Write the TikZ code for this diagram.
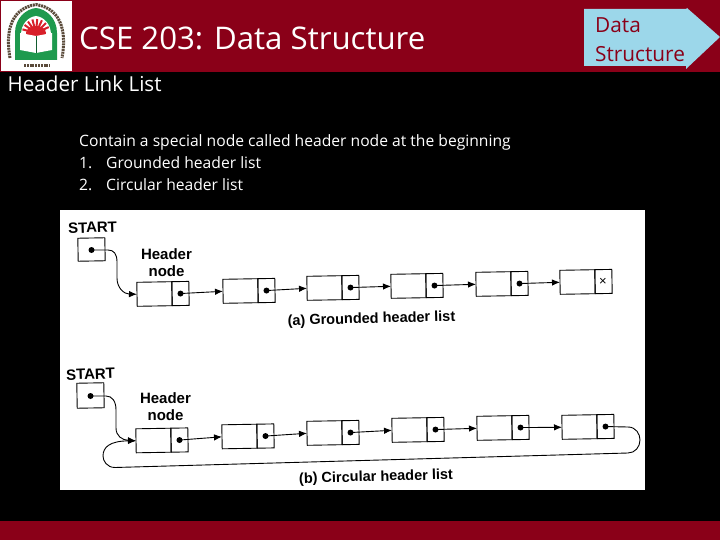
\documentclass[tikz,border=0pt]{standalone}
\usepackage{fontspec}
\setmainfont{Open Sans}
\newfontfamily\figfont{Liberation Sans}
\usetikzlibrary{arrows.meta,calc}
\definecolor{band}{HTML}{8A0018}
\definecolor{sky}{HTML}{9CD7EA}
\definecolor{logogreen}{HTML}{1E9A4E}
\definecolor{logored}{HTML}{D8202A}
\definecolor{logobrown}{HTML}{5A4A3A}
\tikzset{
  slidetext/.style={text=white,anchor=base west,inner sep=0pt},
  cellbase/.style={draw=black,line width=0.9pt,minimum height=24pt,inner sep=0pt,outer sep=0pt},
  datacell/.style={cellbase,minimum width=35pt},
  ptrcell/.style={cellbase,minimum width=17pt},
  startbox/.style={cellbase,minimum width=27pt},
  dotnode/.style={circle,fill=black,minimum size=6pt,inner sep=0pt},
  link/.style={line width=0.9pt,-{Latex[length=8pt,width=6.5pt]}},
  figlabel/.style={font=\figfont\bfseries,text=black,inner sep=0pt,align=center},
}
% \listcell{name}{left x}{center y}{rotation}
\newcommand{\listcell}[4]{%
  \node[datacell,rotate=#4] (#1d) at (#2+17.5,#3) {};
  \node[ptrcell,rotate=#4,anchor=west] (#1p) at (#1d.east) {};
  \node[dotnode] (#1c) at (#1p.center) {};
}
\begin{document}
\begin{tikzpicture}[x=1pt,y=-1pt]
\useasboundingbox (0,0) rectangle (720,540);
\fill[black] (0,0) rectangle (720,540);
\fill[band] (0,0) rectangle (720,72);
\fill[band] (0,521) rectangle (720,540);
% logo
\fill[white] (1,1) rectangle (72,71);
\draw[logobrown,line width=3pt,dash pattern=on 2pt off 0.8pt] (10,58) .. controls (6,36) and (8,9) .. (36,4.5) .. controls (64,9) and (66,36) .. (62,58);
\draw[logobrown,line width=3pt,dash pattern=on 2pt off 0.8pt] (24,66) -- (50,66);
\fill[logogreen] (15,60) -- (15,33) .. controls (15,18) and (26,9) .. (36,8) .. controls (46,9) and (57,18) .. (57,33) -- (57,60) -- cycle;
\fill[white] (21,35) .. controls (21,24) and (28,17) .. (36,16) .. controls (44,17) and (51,24) .. (51,35) -- cycle;
\fill[logored] (36,33) ellipse (10 and 7);
\foreach \a in {195,215,...,345}{\draw[logored,line width=2pt] (36,33) -- ++({\a}:14);}
\fill[white] (20,33) -- (36,36) -- (52,33) -- (52,50) -- (36,53) -- (20,50) -- cycle;
\draw[logogreen!60!black,line width=0.4pt] (36,36) -- (36,53);
% slide texts
\node[slidetext,font=\fontsize{31.2}{36}\selectfont] (title) at (79,49.5) {CSE 203: Data Structure};
\node[slidetext,font=\fontsize{20.6}{24}\selectfont] (sub) at (7.5,92) {Header Link List};
\node[slidetext,font=\fontsize{15.65}{18}\selectfont] (l0) at (79,147) {Contain a special node called header node at the beginning};
\node[slidetext,font=\fontsize{15.65}{18}\selectfont] (n1) at (79,168.5) {1.};
\node[slidetext,font=\fontsize{15.65}{18}\selectfont] (l1) at (106,168.5) {Grounded header list};
\node[slidetext,font=\fontsize{15.65}{18}\selectfont] (n2) at (79,190.5) {2.};
\node[slidetext,font=\fontsize{15.65}{18}\selectfont] (l2) at (106,190.5) {Circular header list};
% arrow tag
\fill[sky] (584,9) -- (686,9) -- (687,8) -- (720,37) -- (686,69) -- (686,66) -- (584,66) -- cycle;
\node[anchor=base west,text=band,inner sep=0pt,font=\fontsize{20.8}{24}\selectfont] (t1) at (595,33) {Data};
\node[anchor=base west,text=band,inner sep=0pt,font=\fontsize{20.8}{24}\selectfont] (t2) at (595,62) {Structure};
% figure
\fill[white] (60,210) rectangle (645,490);
% --- grounded
\node[startbox,rotate=1,minimum height=23pt] (sa) at (91.5,249.5) {};
\node[dotnode] (sac) at (91.5,250) {};
\node[figlabel,font=\figfont\bfseries\fontsize{15}{17}\selectfont,rotate=2] (stA) at (92.5,227.5) {START};
\node[figlabel,font=\figfont\bfseries\fontsize{15}{17}\selectfont] (hA) at (166.5,262.5) {Header\\node};
\listcell{a1}{137}{294}{1}
\listcell{a2}{223}{291}{1}
\listcell{a3}{307}{288}{1}
\listcell{a4}{391}{286}{1}
\listcell{a5}{476}{284}{1}
\listcell{a6}{560}{282}{1}
\node[fill=white,inner sep=1pt,figlabel,font=\figfont\fontsize{13}{15}\selectfont] (xm) at (603,281.5) {×};
\draw[link] (sac.center) -- (108,250) .. controls (114,250) and (117,254) .. (117,262) -- (117,278) .. controls (117,288) and (124,294) .. (a1d.west);
\foreach \i/\j in {1/2,2/3,3/4,4/5,5/6}{\draw[link] (a\i c.center) -- (a\j d.west);}
\node[figlabel,font=\figfont\bfseries\fontsize{14.5}{15}\selectfont,rotate=1.5] (capA) at (371.5,319.5) {(a) Grounded header list};
% --- circular
\node[startbox,rotate=1,minimum height=25pt] (sb) at (90.5,395.5) {};
\node[dotnode] (sbc) at (90.5,396) {};
\node[figlabel,font=\figfont\bfseries\fontsize{15}{17}\selectfont,rotate=2] (stB) at (90.5,374) {START};
\node[figlabel,font=\figfont\bfseries\fontsize{15}{17}\selectfont] (hB) at (165.5,406.5) {Header\\node};
\listcell{b1}{136}{440.5}{1}
\listcell{b2}{222}{436.5}{1}
\listcell{b3}{307}{433}{1}
\listcell{b4}{392}{430}{1}
\listcell{b5}{477}{428}{1}
\listcell{b6}{562}{427}{1}
\draw[link] (sbc.center) -- (106,396) .. controls (112,396) and (116,401) .. (116,410) -- (116,428) .. controls (116,436) and (122,440) .. (b1d.west);
\foreach \i/\j in {1/2,2/3,3/4,4/5,5/6}{\draw[link] (b\i c.center) -- (b\j d.west);}
\draw[link] (b6c.center) -- (628,427) .. controls (636,427) and (640,434) .. (640,440) .. controls (640,447) and (635,453) .. (628,453) -- (115,467.5) .. controls (107,467.5) and (103,461) .. (103,456) .. controls (103,447) and (110,441) .. (b1d.west);
\node[figlabel,font=\figfont\bfseries\fontsize{14.5}{15}\selectfont,rotate=1.5] (capB) at (376,477.5) {(b) Circular header list};
\end{tikzpicture}
\end{document}
